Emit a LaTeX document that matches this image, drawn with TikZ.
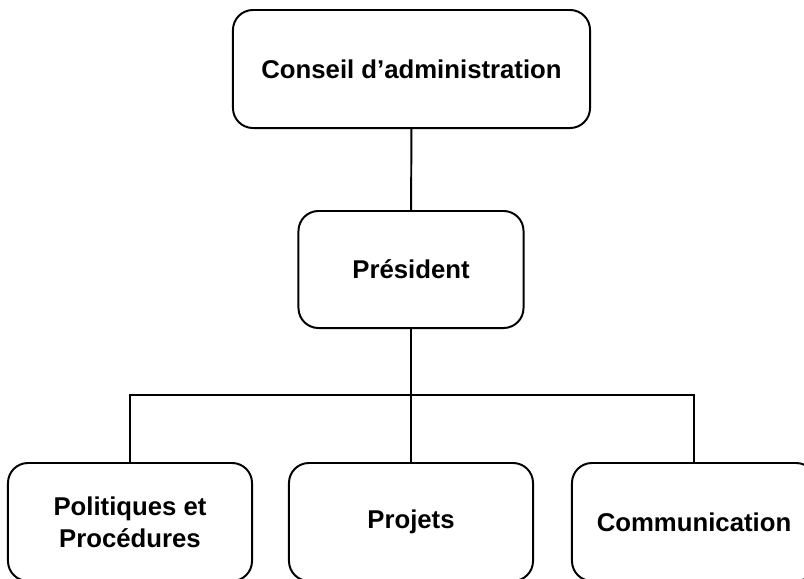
\documentclass[tikz,border=0pt]{standalone}
\usepackage{fontspec}
\setmainfont{Liberation Sans}
\usetikzlibrary{positioning}

\begin{document}
\begin{tikzpicture}[x=0.025cm,y=-0.025cm,font=\fontsize{18.3}{22.7}\selectfont\bfseries]
\tikzstyle{box}=[draw=black,line width=1.4pt,rounded corners=0.5cm,align=center,inner sep=0pt]
\tikzstyle{line}=[line width=1.4pt]
\useasboundingbox (0,0) rectangle (804,579);
%% Boxes %%
\node[box,minimum width=8.925cm,minimum height=2.95cm] at (411.5,69) (CA) {Conseil d’administration};
\node[box,minimum width=5.625cm,minimum height=2.925cm] at (411,269.5) (PRES) {Président};
\node[box,minimum width=6.1cm,minimum height=2.95cm] at (130,522) (POL) {Politiques et\\Procédures};
\node[box,minimum width=6.1cm,minimum height=2.95cm] at (411,522) (PROJ) {Projets};
\node[box,minimum width=6.1cm,minimum height=2.95cm] at (694,522) (COM) {Communication};
%% Lines %%
\coordinate (J) at (411,395);
\draw[line] (CA) -- (PRES);
\draw[line] (PRES) -- (PROJ);
\draw[line] (J) -| (POL);
\draw[line] (J) -| (COM);
\end{tikzpicture}
\end{document}
